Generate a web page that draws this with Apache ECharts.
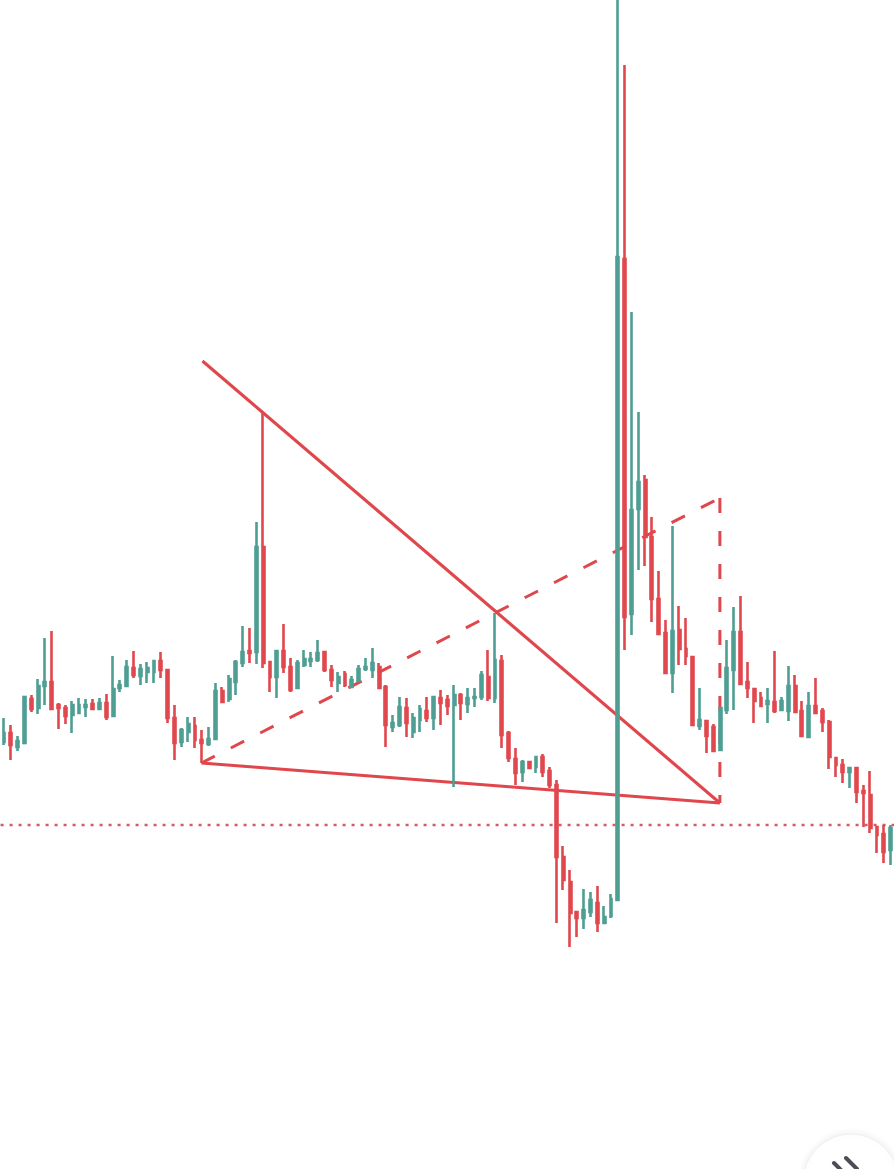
<!DOCTYPE html>
<html>
<head>
<meta charset="utf-8">
<script src="https://cdn.jsdelivr.net/npm/echarts@6/dist/echarts.min.js"></script>
<style>
html,body{margin:0;padding:0;background:#ffffff;}
#chart{width:894px;height:1169px;}
</style>
</head>
<body>
<div id="chart"></div>
<script>
// Candle values (price units)
const opens = [427,436,422,426,470,461,483,487,464,461,
454,456,462,465,460,466,453,481,483,501,
493,497,497,508,499,451,427,437,443,429,
425,430,478,470,487,506,518,517,622,507,
492,518,502,481,504,508,509,517,499,486,
495,482,488,500,499,502,482,442,444,461,
437,449,458,451,471,469,464,474,465,471,
472,492,471,508,436,410,397,407,402,412,
398,384,312,287,257,251,257,266,246,253,
269,910,555,660,689,632,570,536,496,539,
520,512,443,448,442,419,459,499,537,487,
480,471,465,467,459,458,483,458,432,463,
458,447,411,404,397,401,378,374,342,335,319];
const closes = [436,424,428,472,460,483,487,460,461,453,
464,464,464,460,466,452,480,484,502,494,
500,501,508,499,451,426,439,445,429,426,
430,478,467,490,507,517,516,622,506,492,
518,502,479,506,510,510,516,499,489,492,
484,489,500,502,506,481,444,446,462,446,
451,460,451,472,466,463,474,466,471,472,
494,471,509,434,411,396,407,401,412,397,
384,312,289,256,251,259,269,246,252,270,
912,552,659,687,632,570,535,496,538,520,
513,444,449,433,418,461,501,537,485,481,
468,463,468,458,468,483,457,433,463,456,
447,412,404,397,401,377,376,341,334,317,341];
const lows = [424,409,418,426,457,455,464,459,440,445,
436,455,452,460,460,449,453,477,483,491,
484,486,486,491,446,409,422,427,421,406,
423,430,466,467,474,502,506,505,501,477,
471,496,477,480,502,502,507,497,482,477,
482,481,487,498,491,481,422,437,442,432,
431,437,447,439,444,454,382,449,456,462,
469,468,466,421,407,384,387,401,396,392,
381,246,279,222,232,240,252,237,246,251,
269,519,534,599,603,547,534,496,476,504,
504,443,439,416,418,418,455,459,484,471,
446,462,446,456,458,448,456,432,432,456,
437,400,392,386,381,366,342,336,316,306,304];
const highs = [451,444,433,472,474,490,531,538,466,464,
468,471,470,470,471,475,513,489,509,518,
505,507,509,517,500,464,441,452,452,439,
442,486,482,494,509,543,541,647,756,507,
519,545,511,509,519,517,529,517,504,497,
498,493,504,511,521,506,484,454,472,471,
456,464,472,472,479,474,484,476,481,481,
498,519,556,514,438,421,409,408,413,415,
402,389,323,299,257,280,277,283,263,275,
1169,1104,857,757,694,652,598,549,643,563,
551,513,481,448,445,462,529,562,573,507,
481,477,481,518,472,503,494,468,477,491,
461,449,411,410,402,402,384,398,342,344,344];

// Drawing annotations (bar position, price)
const upperTrend = [[29.1, 808], [104.97, 366]];
const lowerTrend = [[28.95, 406], [104.97, 366]];
const dashedRise = [[28.95, 406], [104.97, 671]];
const dashedDrop = [[104.97, 671], [104.97, 366]];
const levelPrice = 344;

const categories = opens.map((_, i) => String(i + 1));
const ohlc = opens.map((o, i) => [o, closes[i], lows[i], highs[i]]);

const UP = '#4f9e93';
const DOWN = '#e0484e';
const LINE = '#e0474c';

const chart = echarts.init(document.getElementById('chart'), null, {renderer: 'canvas'});
const lineBase = {type: 'line', xAxisIndex: 1, yAxisIndex: 0, symbol: 'none', silent: true, z: 1, animation: false};
chart.setOption({
  animation: false,
  backgroundColor: '#ffffff',
  grid: {left: 0.58, width: 896, top: 0, bottom: 0, containLabel: false},
  xAxis: [
    {type: 'category', data: categories, boundaryGap: true, show: false},
    {type: 'value', min: -0.5, max: categories.length - 0.5, show: false}
  ],
  yAxis: {type: 'value', min: 0, max: 1169, show: false, splitLine: {show: false}},
  series: [
    Object.assign({}, lineBase, {data: upperTrend, lineStyle: {color: LINE, width: 3}}),
    Object.assign({}, lineBase, {data: lowerTrend, lineStyle: {color: LINE, width: 3}}),
    Object.assign({}, lineBase, {data: dashedRise, lineStyle: {color: LINE, width: 3, type: [15, 18]}}),
    Object.assign({}, lineBase, {data: dashedDrop, lineStyle: {color: LINE, width: 3, type: [15, 18]}}),
    Object.assign({}, lineBase, {data: [[-0.5, levelPrice], [categories.length - 0.5, levelPrice]], lineStyle: {color: '#d65b61', width: 2.6, type: [3, 6]}}),
    {
      type: 'candlestick',
      data: ohlc,
      z: 3,
      barWidth: 2.4,
      clip: true,
      itemStyle: {color: UP, color0: DOWN, borderColor: UP, borderColor0: DOWN, borderWidth: 2.6}
    }
  ],
  graphic: [
    {type: 'circle', shape: {cx: 851, cy: 1182, r: 48}, z: 100,
     style: {fill: '#ffffff', stroke: '#efefef', lineWidth: 1, shadowBlur: 8, shadowColor: 'rgba(0,0,0,0.08)'}},
    {type: 'polyline', shape: {points: [[834, 1163], [842, 1171], [834, 1179]]}, z: 101,
     style: {stroke: '#4b4e56', lineWidth: 4, fill: null, lineCap: 'round', lineJoin: 'round'}},
    {type: 'polyline', shape: {points: [[846, 1158], [857, 1169], [846, 1180]]}, z: 101,
     style: {stroke: '#4b4e56', lineWidth: 4, fill: null, lineCap: 'round', lineJoin: 'round'}}
  ]
});
</script>
</body>
</html>
